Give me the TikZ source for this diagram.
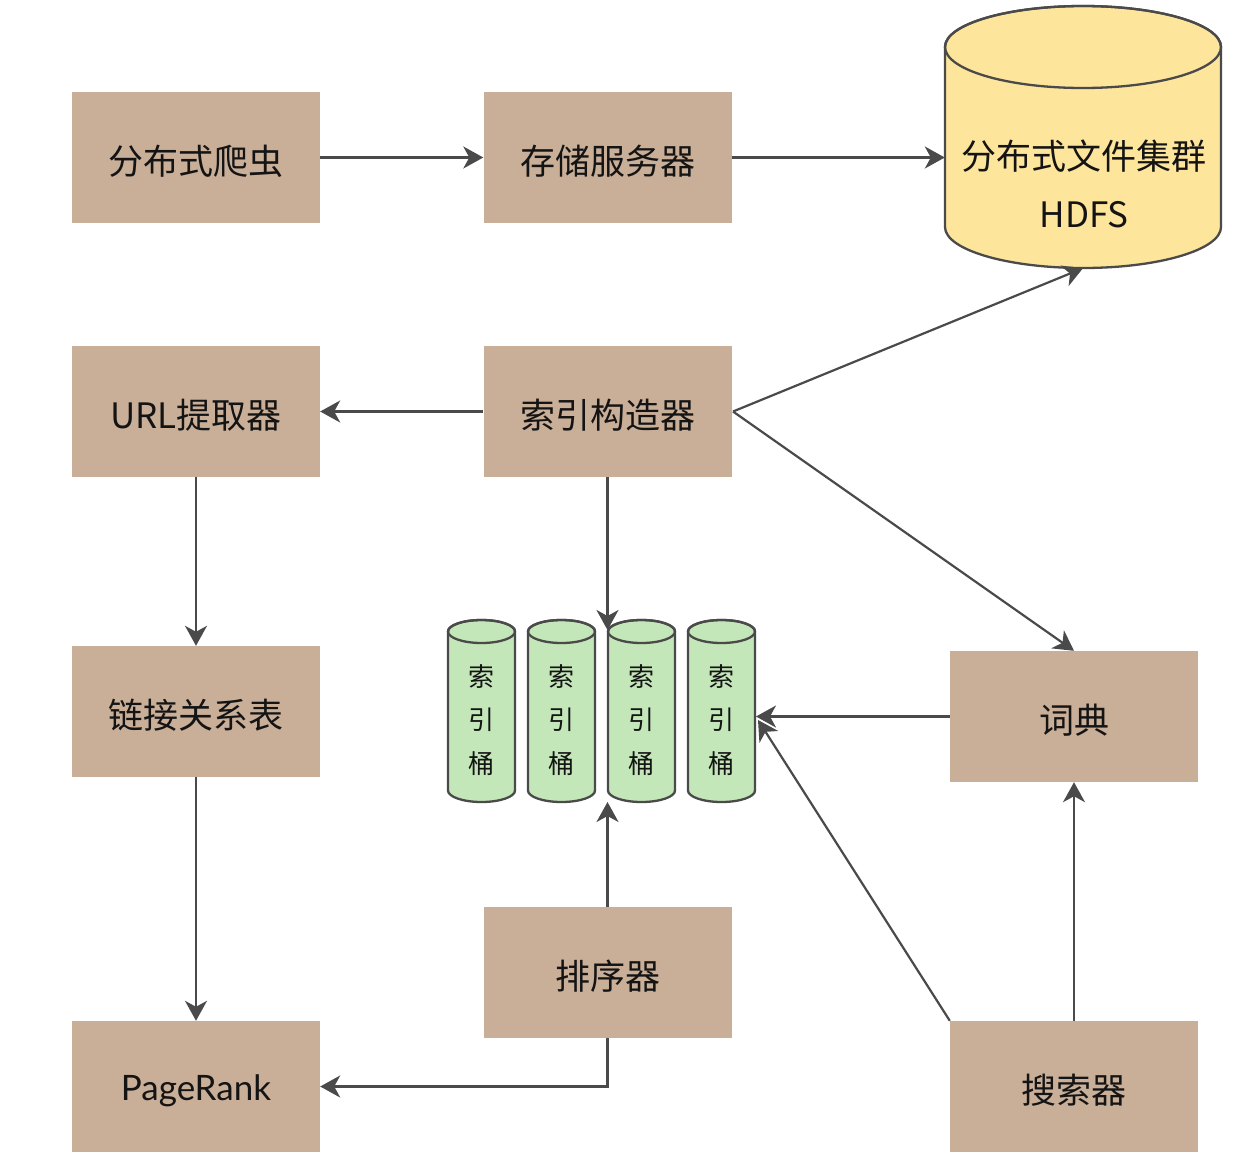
\documentclass[tikz,border=0pt]{standalone}
\usepackage{fontspec}
\setmainfont{Noto Sans CJK SC}
\newfontfamily\latofont{Lato}
\usetikzlibrary{arrows.meta,calc}
\definecolor{tan}{HTML}{C9AE98}
\definecolor{hdfsyellow}{HTML}{FDE59B}
\definecolor{bucketgreen}{HTML}{C4E7B9}
\definecolor{edgegray}{HTML}{4A4A4A}
\definecolor{txt}{HTML}{141414}
\begin{document}
\begin{tikzpicture}[x=1pt,y=1pt,
  box/.style={fill=tan, draw=none, minimum width=248pt, minimum height=131pt, inner sep=0pt,
    text=txt, text height=34pt, text depth=0pt, font=\fontsize{35}{40}\selectfont},
  cylline/.style={draw=edgegray, line width=2.3pt},
  btext/.style={text=txt, align=center, inner sep=0pt, font=\fontsize{26}{43.5}\selectfont},
  arr/.style={draw=edgegray, line width=2.2pt, -{Stealth[length=20pt,width=22pt,inset=6pt]}}
]
\useasboundingbox (0,0) rectangle (1245,-1165);

% boxes
\node[box] (crawler) at (196,-157.5) {分布式爬虫};
\node[box] (storage) at (607.5,-157.5) {存储服务器};
\node[box] (urlx) at (196,-411.5) {URL提取器};
\node[box] (indexer) at (607.5,-411.5) {索引构造器};
\node[box] (links) at (196,-711.5) {链接关系表};
\node[box] (dict) at (1074,-716.5) {词典};
\node[box] (sorter) at (607.5,-972.5) {排序器};
\node[box, text height=28pt, font=\fontsize{35}{40}\latofont] (pagerank) at (196,-1086.5) {PageRank};
\node[box] (searcher) at (1074,-1086.5) {搜索器};

% HDFS cylinder
\filldraw[cylline, fill=hdfsyellow] (945,-47) -- (945,-227)
  arc[start angle=180,end angle=360,x radius=138,y radius=41] -- (1221,-47)
  arc[start angle=0,end angle=180,x radius=138,y radius=41] -- cycle;
\draw[cylline] (1083,-47) ellipse[x radius=138,y radius=41];
\node[minimum width=276pt, minimum height=262pt, inner sep=0pt] (hdfs) at (1083,-137) {};
\node[text=txt, align=center, inner sep=0pt, font=\fontsize{35}{58}\selectfont] (hdfslabel) at (1084,-184) {分布式文件集群\\HDFS};

% index buckets
\foreach \xl/\nm in {448/b1,528/b2,608/b3,688/b4} {
  \filldraw[cylline, fill=bucketgreen] (\xl,-631.5) -- (\xl,-790.5)
    arc[start angle=180,end angle=360,x radius=33.5,y radius=11.5] -- (\xl+67,-631.5)
    arc[start angle=0,end angle=180,x radius=33.5,y radius=11.5] -- cycle;
  \draw[cylline] (\xl+33.5,-631.5) ellipse[x radius=33.5,y radius=11.5];
  \node[btext] (\nm) at (\xl+33.5,-720) {索\\引\\桶};
}
\coordinate (b3top) at (608,-630);
\coordinate (b3bot) at (608,-802);
\coordinate (b4right) at (756,-716.5);
\coordinate (b4tip) at (758,-720);
\coordinate (idxout) at (733,-411.5);

% connectors
\draw[arr] (crawler.east) -- (storage.west);
\draw[arr] (storage.east) -- (hdfs.west |- storage.east);
\draw[arr] (indexer.west) -- (urlx.east);
\draw[arr] (idxout) -- (hdfs.south);
\draw[arr] (idxout) -- (dict.north);
\draw[arr] (indexer.south) -- (indexer.south |- b3top);
\draw[arr] (urlx.south) -- (links.north);
\draw[arr] (links.south) -- (pagerank.north);
\draw[arr] (sorter.north) -- (sorter.north |- b3bot);
\draw[arr] (sorter.south) |- (pagerank.east);
\draw[arr] (dict.west) -- (b4right);
\draw[arr] (searcher.north west) -- (b4tip);
\draw[arr] (searcher.north) -- (dict.south);
\end{tikzpicture}
\end{document}
